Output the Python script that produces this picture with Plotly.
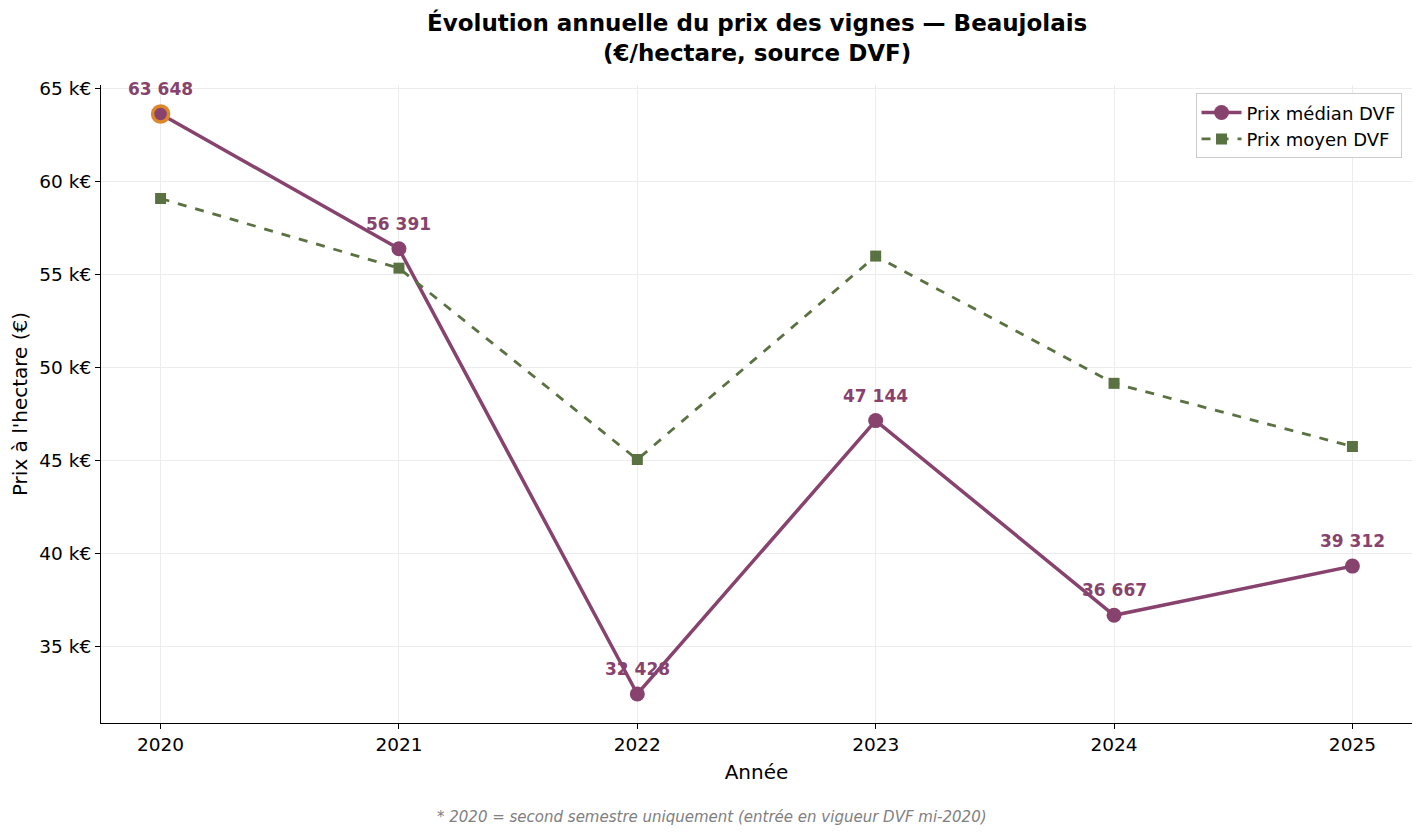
import plotly.graph_objects as go

years = [2020, 2021, 2022, 2023, 2024, 2025]
median_price = [63648, 56391, 32428, 47144, 36667, 39312]
mean_price = [59100, 55350, 45050, 56000, 49150, 45750]
ytick_vals = [35000, 40000, 45000, 50000, 55000, 60000, 65000]
ytick_text = ["35 k€", "40 k€", "45 k€", "50 k€", "55 k€", "60 k€", "65 k€"]

PURPLE = "#87436D"
GREEN = "#5A7141"
ORANGE = "#E0862A"
FONT = "DejaVu Sans"

fig = go.Figure()
fig.add_trace(go.Scatter(
    x=years, y=median_price, mode="lines+markers", name="Prix médian DVF",
    line=dict(color=PURPLE, width=3.5),
    marker=dict(symbol="circle", size=15, color=PURPLE),
))
fig.add_trace(go.Scatter(
    x=years, y=mean_price, mode="lines+markers", name="Prix moyen DVF",
    line=dict(color=GREEN, width=2.8, dash="dash"),
    marker=dict(symbol="square", size=11, color=GREEN),
))
fig.add_trace(go.Scatter(
    x=[years[0]], y=[median_price[0]], mode="markers", showlegend=False,
    marker=dict(symbol="circle", size=16, color=PURPLE, line=dict(color=ORANGE, width=3.5)),
    hoverinfo="skip",
))

for xv, yv in zip(years, median_price):
    fig.add_annotation(
        x=xv, y=yv, text=f"{yv:,}".replace(",", " "), showarrow=False,
        yshift=25, font=dict(family=FONT, size=17, color=PURPLE, weight="bold"),
    )

# Title
fig.add_annotation(
    x=0.5, y=1.0737, xref="paper", yref="paper", xanchor="center", yanchor="middle",
    text="<b>Évolution annuelle du prix des vignes — Beaujolais<br>(€/hectare, source DVF)</b>",
    showarrow=False, font=dict(family=FONT, size=23, color="black"),
)

# Footnote
fig.add_annotation(
    x=0.466, y=-0.148, xref="paper", yref="paper", xanchor="center", yanchor="middle",
    text="<i>* 2020 = second semestre uniquement (entrée en vigueur DVF mi-2020)</i>",
    showarrow=False, font=dict(family=FONT, size=15, color="#808080"),
)

fig.update_layout(
    width=1424, height=838,
    margin=dict(l=101, r=12, t=85, b=115),
    paper_bgcolor="white", plot_bgcolor="white",
    font=dict(family=FONT, size=17, color="black"),
    legend=dict(
        x=0.992, y=0.987, xanchor="right", yanchor="top",
        bgcolor="rgba(255,255,255,0.9)", bordercolor="#cccccc", borderwidth=1,
        font=dict(family=FONT, size=18), itemwidth=40, tracegroupgap=0,
    ),
    xaxis=dict(
        range=[2019.75, 2025.25], tickvals=years, ticktext=[str(y) for y in years],
        showgrid=True, gridcolor="#ececec", gridwidth=1,
        showline=True, linecolor="black", linewidth=1.2, mirror=False,
        ticks="outside", ticklen=5, tickcolor="black", zeroline=False,
        tickfont=dict(family=FONT, size=18.5),
        title=dict(text="Année", font=dict(family=FONT, size=20), standoff=10),
    ),
    yaxis=dict(
        range=[30867, 65209], tickvals=ytick_vals, ticktext=ytick_text,
        showgrid=True, gridcolor="#ececec", gridwidth=1,
        showline=True, linecolor="black", linewidth=1.2, mirror=False,
        ticks="outside", ticklen=5, tickcolor="black", zeroline=False,
        tickfont=dict(family=FONT, size=18.5),
        title=dict(text="Prix à l'hectare (€)", font=dict(family=FONT, size=20), standoff=6),
    ),
)

fig.write_html("out.html")
